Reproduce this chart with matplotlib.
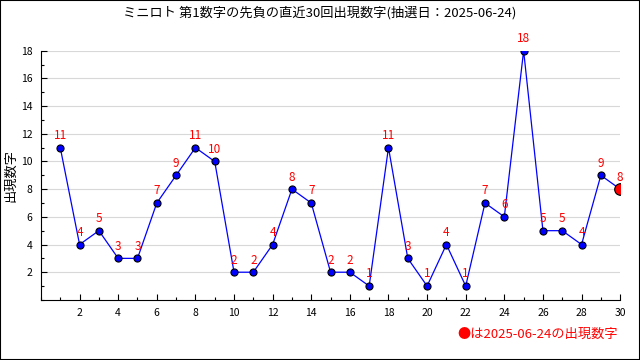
import matplotlib
matplotlib.use('Agg')
import matplotlib.pyplot as plt
from matplotlib.ticker import MultipleLocator
from matplotlib.patches import Rectangle

plt.rcParams['font.family'] = ['Noto Sans CJK JP', 'DejaVu Sans']

# データ
draws = list(range(1, 31))
values = [11, 4, 5, 3, 3, 7, 9, 11, 10, 2, 2, 4, 8, 7, 2, 2, 1, 11, 3, 1,
          4, 1, 7, 6, 18, 5, 5, 4, 9, 8]
title = 'ミニロト 第1数字の先負の直近30回出現数字(抽選日：2025-06-24)'
note = '●は2025-06-24の出現数字'

fig = plt.figure(figsize=(6.4, 3.6), dpi=100)
ax = fig.add_axes([0.064, 0.167, 0.905, 0.692])

ax.plot(draws, values, color='blue', linewidth=0.9, zorder=3)
ax.scatter(draws[:-1], values[:-1], s=26, color='blue', edgecolor='black',
           linewidth=0.8, zorder=4)
ax.scatter(draws[-1:], values[-1:], s=70, color='red', edgecolor='black',
           linewidth=0.8, zorder=5)

for x, y in zip(draws, values):
    ax.annotate(str(y), (x, y), xytext=(0, 4), textcoords='offset points',
                ha='center', va='bottom', color='red', fontsize=8.5)

ax.set_xlim(0, 30)
ax.set_ylim(0, 18)
ax.xaxis.set_minor_locator(MultipleLocator(1))
ax.yaxis.set_minor_locator(MultipleLocator(1))
ax.set_xticks(range(2, 31, 2))
ax.set_yticks(range(2, 19, 2))
ax.tick_params(axis='both', which='both', direction='in', width=0.8,
               labelsize=7.5, pad=6)
ax.tick_params(axis='both', which='major', length=4.5)
ax.tick_params(axis='both', which='minor', length=2.5)

ax.grid(axis='y', color='#d8d8d8', linewidth=0.8)
ax.set_axisbelow(True)
for s in ['top', 'right']:
    ax.spines[s].set_visible(False)
ax.set_ylabel('出現数字', fontsize=9.5)
ax.yaxis.set_label_coords(-0.041, 0.5)

fig.text(0.5, 0.965, title, ha='center', va='center', fontsize=9.5)
fig.text(0.966, 0.07, note, ha='right', va='center', fontsize=9.5, color='red')

fig.patches.append(Rectangle((0, 0), 1, 1, transform=fig.transFigure,
                             fill=False, edgecolor='black', linewidth=1.5))

fig.savefig('out.png', dpi=100)
